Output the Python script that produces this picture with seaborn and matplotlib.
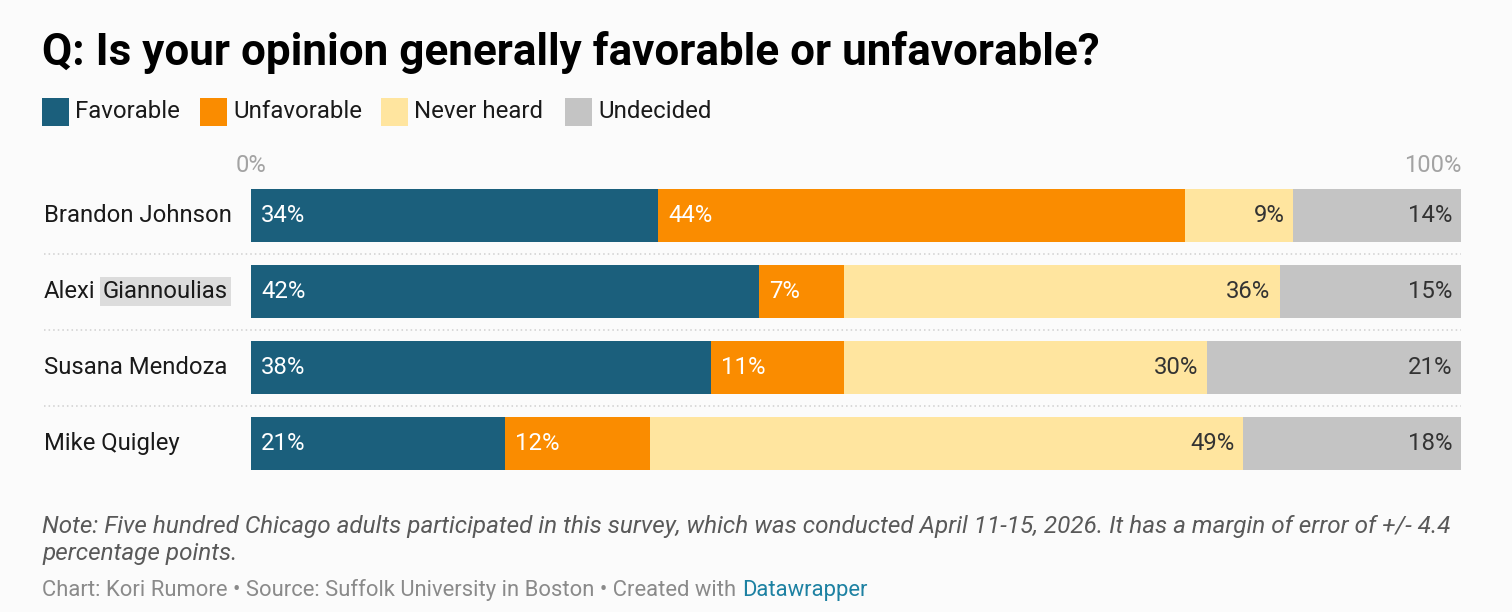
import matplotlib
matplotlib.use("Agg")
import matplotlib.pyplot as plt
import matplotlib.transforms as mtransforms
import numpy as np
import pandas as pd
import seaborn as sns

names = ["Brandon Johnson", "Alexi Giannoulias", "Susana Mendoza", "Mike Quigley"]
categories = ["Favorable", "Unfavorable", "Never heard", "Undecided"]
favorable = [34, 42, 38, 21]
unfavorable = [44, 7, 11, 12]
never_heard = [9, 36, 30, 49]
undecided = [14, 15, 21, 18]
colors = ["#1b5f7c", "#fa8c00", "#ffe59f", "#c4c4c4"]
label_colors = ["white", "white", "#333333", "#333333"]
axis_labels = ["0%", "100%"]

title = "Q: Is your opinion generally favorable or unfavorable?"
note_lines = ["Note: Five hundred Chicago adults participated in this survey, which was conducted April 11-15, 2026. "
              "It has a margin of error of +/- 4.4",
              "percentage points."]
credit = "Chart: Kori Rumore \u2022 Source: Suffolk University in Boston \u2022 Created with "
credit_link = "Datawrapper"

df = pd.DataFrame({"name": names, "Favorable": favorable, "Unfavorable": unfavorable,
                   "Never heard": never_heard, "Undecided": undecided})
# rows do not always add up to exactly 100 (rounding), so scale each bar to the full width
totals = df[categories].sum(axis=1)
shares = df[categories].div(totals, axis=0) * 100
cum = shares.cumsum(axis=1)

sns.set_theme(style="white")
plt.rcParams["font.family"] = ["Roboto", "DejaVu Sans"]
bg = "#fbfbfb"
fs_name = 17.2
fs_val = 17.2

fig = plt.figure(figsize=(15.12, 6.12), dpi=100, facecolor=bg)
W, H = 1512, 612
ax = fig.add_axes([251 / W, 1 - 481.5 / H, 1210 / W, 304 / H])
ax.set_facecolor(bg)

# stacked bars: draw cumulative totals from the back to the front
plot_df = pd.concat([df[["name"]], cum], axis=1)
for cat, col in reversed(list(zip(categories, colors))):
    sns.barplot(data=plot_df, x=cat, y="name", color=col, saturation=1, width=0.7,
                orient="h", errorbar=None, ax=ax, zorder=2, linewidth=0, edgecolor="none")

ax.set_xlim(0, 100)
ax.set_ylim(3.5, -0.5)
ax.set_xlabel("")
ax.set_ylabel("")
ax.set_xticks([])
ax.set_yticks([])
for s in ax.spines.values():
    s.set_visible(False)

# value labels inside segments
for i in range(len(names)):
    starts = [0] + list(cum.iloc[i, :-1])
    ends = list(cum.iloc[i])
    for j, cat in enumerate(categories):
        val = df.loc[i, cat]
        if j < 2:
            tr = mtransforms.offset_copy(ax.transData, fig=fig, x=10, y=0, units="dots")
            ax.text(starts[j], i, f"{val}%", transform=tr, ha="left", va="center",
                    fontsize=fs_val, color=label_colors[j], zorder=5)
        else:
            tr = mtransforms.offset_copy(ax.transData, fig=fig, x=-9, y=0, units="dots")
            ax.text(ends[j], i, f"{val}%", transform=tr, ha="right", va="center",
                    fontsize=fs_val, color=label_colors[j], zorder=5)

# row names and dotted separators
blend = mtransforms.blended_transform_factory(ax.transAxes, ax.transData)
name_x = (44 - 251) / 1210
name_texts = []
for i, n in enumerate(names):
    shown = "Alexi" if n == "Alexi Giannoulias" else n
    t = ax.text(name_x, i, shown, transform=blend, ha="left", va="center",
                fontsize=fs_name, color="#1a1a1a", clip_on=False)
    name_texts.append(t)
for y in [0.5, 1.5, 2.5]:
    ax.plot([name_x, 1], [y, y], transform=blend, color="#cfcfcf", lw=1.1,
            linestyle=(0, (1, 2)), clip_on=False, zorder=1)

# axis labels on top
top = mtransforms.blended_transform_factory(ax.transData, ax.transAxes)
ax.text(0, 1 + 12 / 304, axis_labels[0], transform=top, ha="center", va="center",
        fontsize=17, color="#a3a3a3")
ax.text(100, 1 + 12 / 304, axis_labels[1], transform=top, ha="right", va="center",
        fontsize=17, color="#a3a3a3")

# title
fig.text(42 / W, 1 - 65 / H, title, ha="left", va="baseline", fontsize=31.7,
         fontweight="bold", color="#000000")

# legend
leg_x = [42, 200, 381, 565]
for x, cat, col in zip(leg_x, categories, colors):
    fig.patches.append(plt.Rectangle((x / W, 1 - 126 / H), 27 / W, 28 / H,
                                     transform=fig.transFigure, facecolor=col,
                                     edgecolor="none"))
    fig.text((x + 33) / W, 1 - 112 / H, cat, ha="left", va="center", fontsize=17.3,
             color="#1a1a1a")

# note and credits
for k, line in enumerate(note_lines):
    fig.text(42 / W, 1 - (533 + 27 * k) / H, line, ha="left", va="baseline", fontsize=17.5,
             style="italic", color="#595959")
cr = fig.text(42 / W, 1 - 596 / H, credit, ha="left", va="baseline", fontsize=15.8,
              color="#8a8a8a")

fig.canvas.draw()
r = fig.canvas.get_renderer()
bb = cr.get_window_extent(r)
fig.text(bb.x1 / W, 1 - 596 / H, credit_link, ha="left", va="baseline", fontsize=15.8,
         color="#1d81a2")

# the highlighted surname in the second row
bb2 = name_texts[1].get_window_extent(r)
x_start = ax.transAxes.inverted().transform((bb2.x1 + 7, 0))[0]
ax.text(x_start, 1, "Giannoulias", transform=blend, ha="left", va="center",
        fontsize=fs_name, color="#1a1a1a", clip_on=False,
        bbox=dict(boxstyle="square,pad=0.12", facecolor="#dcdcdc", edgecolor="none"))

fig.savefig("out.png", dpi=100, facecolor=bg)
